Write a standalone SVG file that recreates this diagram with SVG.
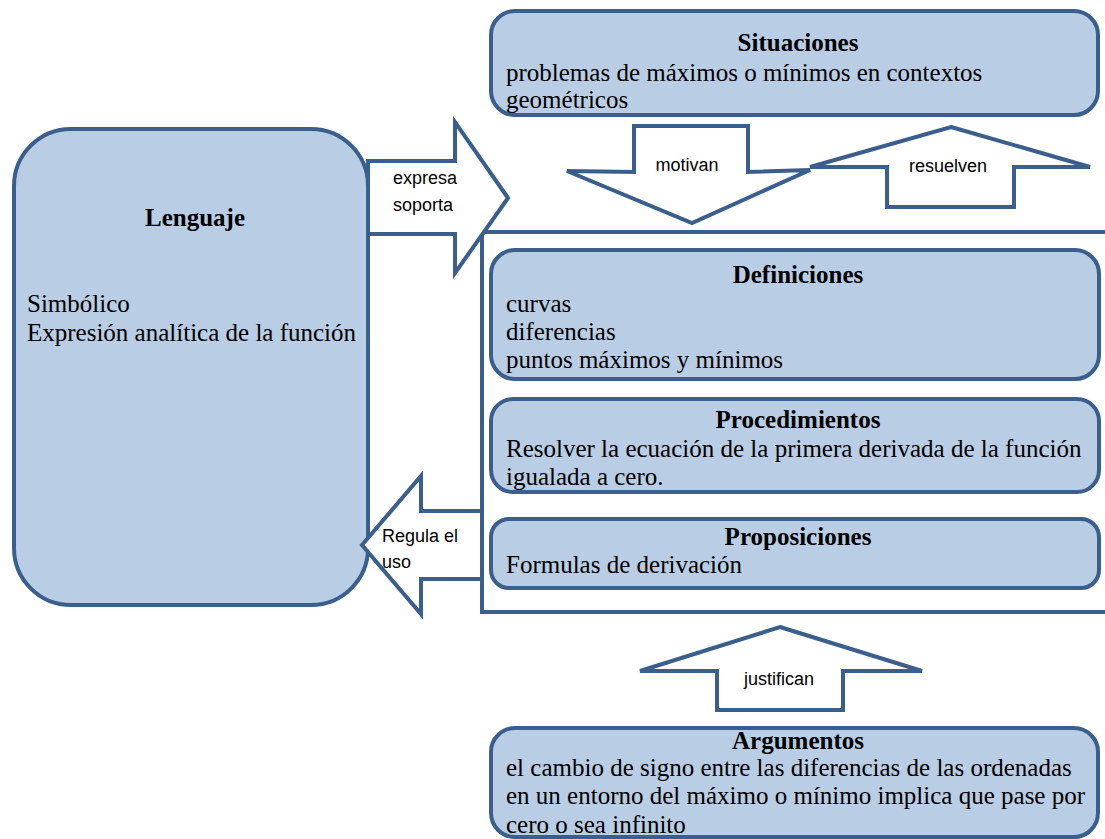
<svg xmlns="http://www.w3.org/2000/svg" width="1105" height="839" viewBox="0 0 1105 839">
<style>
.box{fill:#b9cde5;stroke:#3a5f8d;stroke-width:4}
.arr{fill:#ffffff;stroke:#3a5f8d;stroke-width:4;stroke-linejoin:miter}
.frame{fill:none;stroke:#3a5f8d;stroke-width:4}
.t{font-family:"Liberation Serif","Times New Roman",serif;font-size:25px;fill:#000}
.b{font-weight:bold}
.s{font-family:"Liberation Sans",Arial,sans-serif;font-size:18px;fill:#000}
</style>
<rect width="1105" height="839" fill="#ffffff"/>
<g id="frame"><rect class="frame" x="482" y="232" width="640" height="380"/></g>
<g id="lenguaje">
<rect class="box" x="14" y="129" width="354" height="476" rx="57" ry="57"/>
<text class="t b" x="195" y="226" text-anchor="middle">Lenguaje</text>
<text class="t" x="27" y="312">Simbólico</text>
<text class="t" x="27" y="341">Expresión analítica de la función</text>
</g>
<g id="situaciones">
<rect class="box" x="491" y="11" width="607" height="104" rx="24" ry="24"/>
<text class="t b" x="798" y="51" text-anchor="middle">Situaciones</text>
<text class="t" x="506" y="81">problemas de máximos o mínimos en contextos</text>
<text class="t" x="506" y="108">geométricos</text>
</g>
<g id="definiciones">
<rect class="box" x="491" y="250" width="608" height="129" rx="24" ry="24"/>
<text class="t b" x="798" y="283" text-anchor="middle">Definiciones</text>
<text class="t" x="506" y="312">curvas</text>
<text class="t" x="506" y="340">diferencias</text>
<text class="t" x="506" y="368">puntos máximos y mínimos</text>
</g>
<g id="procedimientos">
<rect class="box" x="491" y="399" width="608" height="93" rx="22" ry="22"/>
<text class="t b" x="798" y="428" text-anchor="middle">Procedimientos</text>
<text class="t" x="506" y="457">Resolver la ecuación de la primera derivada de la función</text>
<text class="t" x="506" y="485">igualada a cero.</text>
</g>
<g id="proposiciones">
<rect class="box" x="491" y="519" width="608" height="69" rx="18" ry="18"/>
<text class="t b" x="798" y="545" text-anchor="middle">Proposiciones</text>
<text class="t" x="506" y="573">Formulas de derivación</text>
</g>
<g id="argumentos">
<rect class="box" x="491" y="728" width="607" height="109" rx="24" ry="24"/>
<text class="t b" x="798" y="749" text-anchor="middle">Argumentos</text>
<text class="t" x="506" y="776">el cambio de signo entre las diferencias de las ordenadas</text>
<text class="t" x="506" y="804">en un entorno del máximo o mínimo implica que pase por</text>
<text class="t" x="506" y="833">cero o sea infinito</text>
</g>
<g id="connectors">
<polygon class="arr" points="368,161 455,161 455,122 508,198 455,273 455,234 368,234"/>
<text class="s" x="393" y="184">expresa</text>
<text class="s" x="393" y="211">soporta</text>
<polygon class="arr" points="634,126 748,126 748,172 810,170 692,223 567,171 634,172"/>
<text class="s" x="687" y="171" text-anchor="middle">motivan</text>
<polygon class="arr" points="951,127 1090,167 1014,167 1014,207 887,207 887,167 810,167"/>
<text class="s" x="948" y="172" text-anchor="middle">resuelven</text>
<polygon class="arr" points="362,545 421,476 421,511 482,511 482,579 421,579 421,614"/>
<text class="s" x="382" y="542">Regula el</text>
<text class="s" x="382" y="568">uso</text>
<polygon class="arr" points="780,627 922,671 843,671 843,710 717,710 717,671 640,671"/>
<text class="s" x="779" y="685" text-anchor="middle">justifican</text>
</g>
</svg>
